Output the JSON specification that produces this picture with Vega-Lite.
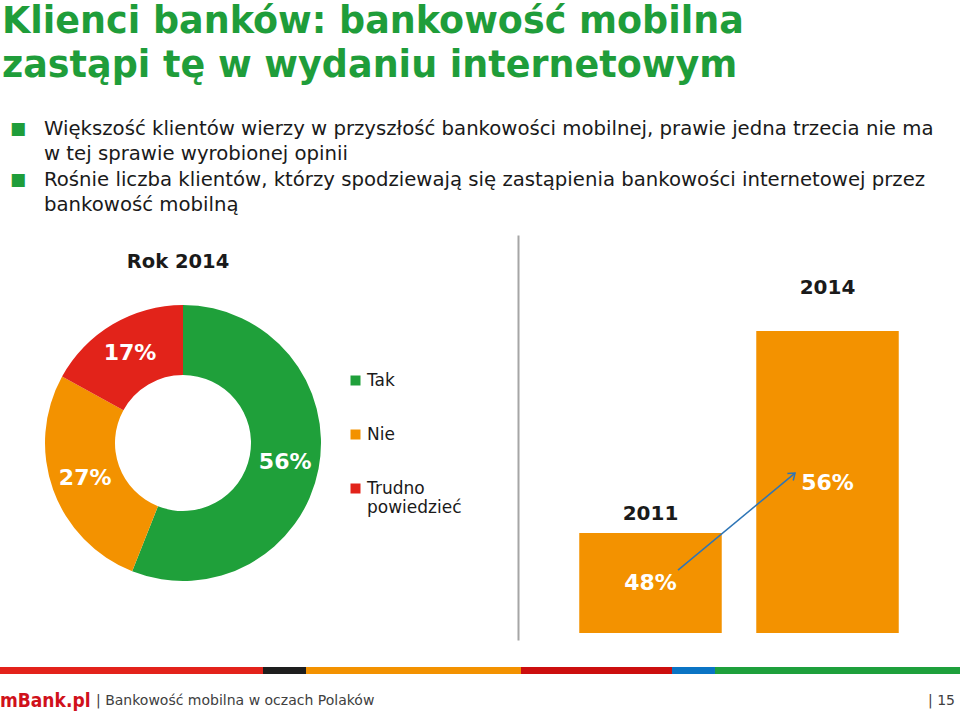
{
  "$schema": "https://vega.github.io/schema/vega-lite/v6.json",
  "padding": 0,
  "background": "white",
  "spacing": 16,
  "config": {"view": {"stroke": null}, "font": "DejaVu Sans"},
  "resolve": {"scale": {"x": "independent", "y": "independent", "color": "independent"}},
  "datasets": {
    "title": [{"text": "Klienci banków: bankowość mobilna\nzastąpi tę w wydaniu internetowym"}],
    "bullets": [
      {"bullet": "1", "text": "Większość klientów wierzy w przyszłość bankowości mobilnej, prawie jedna trzecia nie ma\nw tej sprawie wyrobionej opinii"},
      {"bullet": "2", "text": "Rośnie liczba klientów, którzy spodziewają się zastąpienia bankowości internetowej przez\nbankowość mobilną"}
    ],
    "donut": [
      {"answer": "Tak", "share": 0.56},
      {"answer": "Nie", "share": 0.27},
      {"answer": "Trudno powiedzieć", "share": 0.17}
    ],
    "bars": [
      {"year": "2011", "share": 0.48},
      {"year": "2014", "share": 0.56}
    ],
    "arrow": [{"from": "2011", "to": "2014", "start": 0.4653, "end": 0.5037}],
    "stripe": [
      {"band": "pasek", "segment": "s1", "length": 263},
      {"band": "pasek", "segment": "s2", "length": 43},
      {"band": "pasek", "segment": "s3", "length": 215},
      {"band": "pasek", "segment": "s4", "length": 151},
      {"band": "pasek", "segment": "s5", "length": 43},
      {"band": "pasek", "segment": "s6", "length": 245}
    ],
    "footer": [
      {"part": "brand", "text": "mBank.pl"},
      {"part": "caption", "text": "| Bankowość mobilna w oczach Polaków"},
      {"part": "page", "text": "| 15"}
    ]
  },
  "vconcat": [
    {
      "width": 960,
      "height": 86,
      "data": {"name": "title"},
      "mark": {"type": "text", "align": "left", "baseline": "middle", "lineBreak": "\n", "lineHeight": 44, "font": "DejaVu Sans", "fontWeight": "bold", "fontSize": 36.5, "color": "#1F9D3A", "dx": 2, "dy": -21},
      "encoding": {
        "text": {"field": "text"},
        "x": {"datum": 0, "type": "quantitative", "scale": {"domain": [0, 1]}, "axis": null}
      }
    },
    {
      "width": 960,
      "height": 117,
      "data": {"name": "bullets"},
      "encoding": {
        "x": {"datum": 0, "type": "quantitative", "scale": {"domain": [0, 1]}, "axis": null},
        "y": {"field": "bullet", "type": "ordinal", "scale": {"range": [27, 78], "padding": 0}, "axis": null}
      },
      "layer": [
        {
          "mark": {"type": "text", "align": "center", "baseline": "middle", "fontSize": 17, "color": "#1F9D3A", "dx": 18},
          "encoding": {"text": {"value": "■"}}
        },
        {
          "mark": {"type": "text", "align": "left", "baseline": "middle", "lineBreak": "\n", "lineHeight": 24.5, "fontSize": 19.7, "color": "#1a1a1a", "dx": 44},
          "encoding": {"text": {"field": "text"}}
        }
      ]
    },
    {
      "spacing": 152,
      "bounds": "flush",
      "resolve": {"scale": {"x": "independent", "y": "independent", "color": "independent", "theta": "independent"}},
      "hconcat": [
        {
          "width": 366,
          "height": 416,
          "title": {"text": "Rok 2014", "fontSize": 19.5, "fontWeight": "bold", "color": "#1a1a1a", "anchor": "middle", "offset": -37, "dx": -5},
          "data": {"name": "donut"},
          "encoding": {
            "theta": {"field": "share", "type": "quantitative", "stack": true},
            "order": {"field": "share", "sort": "descending"}
          },
          "layer": [
            {
              "mark": {"type": "arc", "outerRadius": 138, "innerRadius": 68},
              "encoding": {
                "color": {
                  "field": "answer", "type": "nominal",
                  "scale": {"domain": ["Tak", "Nie", "Trudno powiedzieć"], "range": ["#1FA03A", "#F39200", "#E2231A"]},
                  "legend": {
                    "orient": "none", "legendX": 347, "legendY": 137, "title": null,
                    "symbolType": "square", "symbolSize": 100, "symbolStrokeWidth": 0,
                    "labelFontSize": 17, "labelFont": "DejaVu Sans", "labelColor": "#1a1a1a",
                    "rowPadding": 36, "labelOffset": 3, "labelLimit": 0,
                    "labelExpr": "datum.label == 'Trudno powiedzieć' ? ['Trudno', 'powiedzieć'] : datum.label"
                  }
                }
              }
            },
            {
              "mark": {"type": "text", "radius": 104, "fontSize": 22, "fontWeight": "bold", "color": "white"},
              "encoding": {"text": {"field": "share", "type": "quantitative", "format": ".0%"}}
            }
          ]
        },
        {
          "width": 442,
          "height": 405,
          "encoding": {
            "x": {"field": "year", "type": "nominal", "scale": {"domain": ["2011", "2014"], "paddingInner": 0.195, "paddingOuter": 0.346}, "axis": null},
            "y": {
              "field": "share", "type": "quantitative",
              "scale": {"domain": [0.4376, 0.598], "zero": false, "nice": false},
              "axis": {"orient": "left", "domain": true, "domainColor": "#A6A6A6", "domainWidth": 2, "ticks": false, "labels": false, "grid": false, "title": null}
            }
          },
          "layer": [
            {
              "data": {"name": "bars"},
              "mark": {"type": "bar", "color": "#F39200"},
              "encoding": {"y2": {"datum": 0.4404}}
            },
            {
              "data": {"name": "bars"},
              "transform": [{"filter": "datum.year == '2011'"}],
              "mark": {"type": "text", "fontSize": 20, "fontWeight": "bold", "color": "#1a1a1a", "baseline": "middle", "dy": -19},
              "encoding": {"text": {"field": "year"}}
            },
            {
              "data": {"name": "bars"},
              "transform": [{"filter": "datum.year == '2014'"}],
              "mark": {"type": "text", "fontSize": 20, "fontWeight": "bold", "color": "#1a1a1a", "baseline": "middle", "dy": -43},
              "encoding": {"text": {"field": "year"}}
            },
            {
              "data": {"name": "bars"},
              "transform": [{"filter": "datum.year == '2011'"}],
              "mark": {"type": "text", "fontSize": 22, "fontWeight": "bold", "color": "white", "baseline": "middle", "dy": 50},
              "encoding": {"text": {"field": "share", "type": "quantitative", "format": ".0%"}}
            },
            {
              "data": {"name": "bars"},
              "transform": [{"filter": "datum.year == '2014'"}],
              "mark": {"type": "text", "fontSize": 22, "fontWeight": "bold", "color": "white", "baseline": "middle", "dy": 152},
              "encoding": {"text": {"field": "share", "type": "quantitative", "format": ".0%"}}
            },
            {
              "data": {"name": "arrow"},
              "mark": {"type": "rule", "color": "#2E75B6", "strokeWidth": 1.5},
              "encoding": {
                "x": {"field": "from", "type": "nominal", "bandPosition": 0.693},
                "x2": {"field": "to", "bandPosition": 0.272},
                "y": {"field": "start", "type": "quantitative"},
                "y2": {"field": "end"}
              }
            },
            {
              "data": {"name": "arrow"},
              "mark": {"type": "point", "shape": "M -1 -0.75 L 0 0 L -1 0.75", "filled": false, "stroke": "#2E75B6", "strokeWidth": 1.5, "size": 150, "angle": -39.7, "opacity": 1},
              "encoding": {
                "x": {"field": "to", "type": "nominal", "bandPosition": 0.272},
                "y": {"field": "end", "type": "quantitative"}
              }
            }
          ]
        }
      ]
    },
    {
      "width": 960,
      "height": 7,
      "data": {"name": "stripe"},
      "mark": {"type": "bar"},
      "encoding": {
        "y": {"field": "band", "type": "nominal", "scale": {"paddingInner": 0, "paddingOuter": 0}, "axis": null},
        "x": {"field": "length", "type": "quantitative", "stack": "zero", "scale": {"domain": [0, 960], "nice": false}, "axis": null},
        "color": {"field": "segment", "type": "nominal", "scale": {"domain": ["s1", "s2", "s3", "s4", "s5", "s6"], "range": ["#E3221B", "#1E1E1E", "#F39200", "#CC0E0E", "#0A74C4", "#1EA03C"]}, "legend": null},
        "order": {"field": "segment", "type": "nominal"}
      }
    },
    {
      "width": 960,
      "height": 22,
      "data": {"name": "footer"},
      "layer": [
        {
          "transform": [{"filter": "datum.part == 'brand'"}],
          "mark": {"type": "text", "align": "left", "baseline": "middle", "font": "DejaVu Sans Condensed", "fontWeight": "bold", "fontSize": 19, "color": "#D0111B"},
          "encoding": {"text": {"field": "text"}, "x": {"datum": 0, "type": "quantitative", "scale": {"domain": [0, 1]}, "axis": null}}
        },
        {
          "transform": [{"filter": "datum.part == 'caption'"}],
          "mark": {"type": "text", "align": "left", "baseline": "middle", "fontSize": 14, "color": "#404040", "dx": 96},
          "encoding": {"text": {"field": "text"}, "x": {"datum": 0, "type": "quantitative", "scale": {"domain": [0, 1]}, "axis": null}}
        },
        {
          "transform": [{"filter": "datum.part == 'page'"}],
          "mark": {"type": "text", "align": "right", "baseline": "middle", "fontSize": 14, "color": "#404040", "dx": -5},
          "encoding": {"text": {"field": "text"}, "x": {"datum": 1, "type": "quantitative", "scale": {"domain": [0, 1]}, "axis": null}}
        }
      ]
    }
  ]
}
